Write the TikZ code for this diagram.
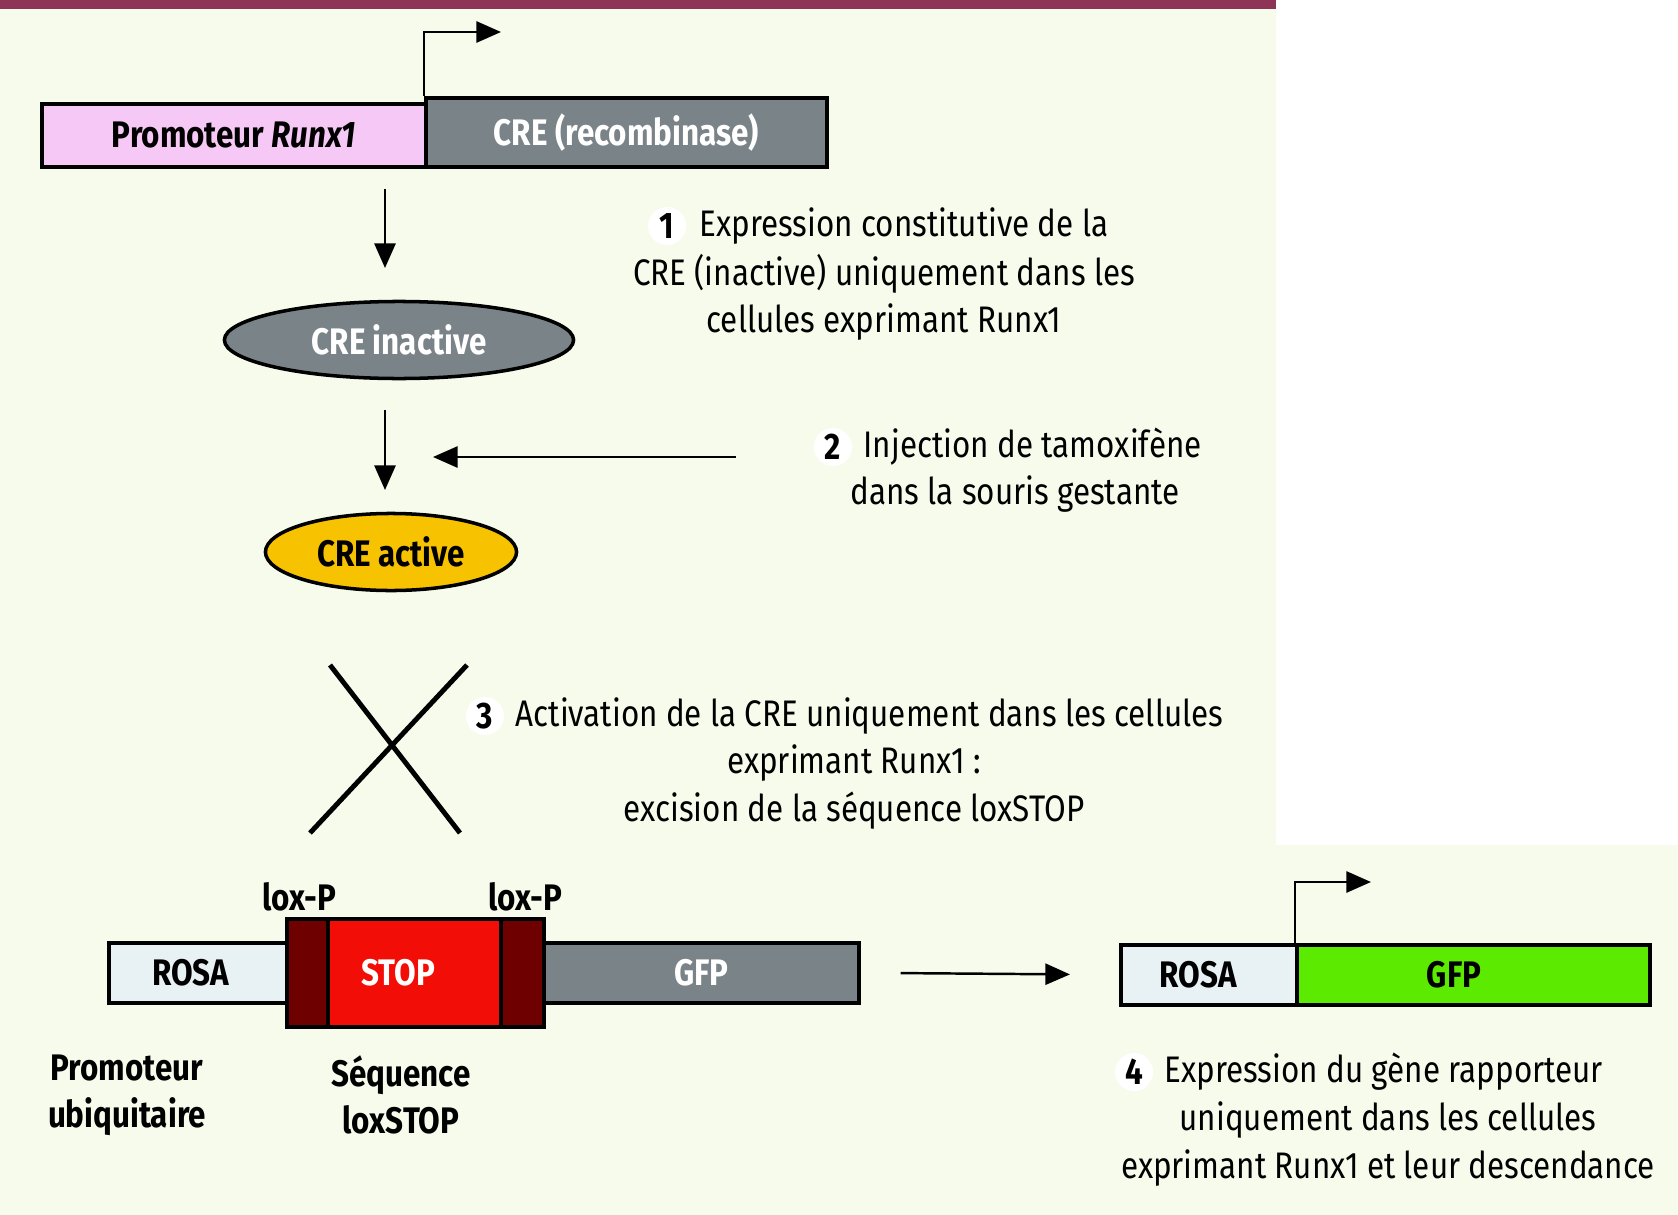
\documentclass[tikz,border=0pt]{standalone}
\usepackage{fontspec}
\setmainfont{Fira Sans}[FakeStretch=0.85]
\usetikzlibrary{positioning, shapes.geometric, arrows.meta}
\usetikzlibrary{backgrounds}

\definecolor{fond}{RGB}{247,251,236}
\definecolor{bordeaux}{RGB}{142,52,86}
\definecolor{rose}{RGB}{245,200,245}
\definecolor{gris}{RGB}{122,132,136}
\definecolor{bleupale}{RGB}{232,242,245}
\definecolor{loxp}{RGB}{110,0,0}
\definecolor{rouge}{RGB}{242,14,6}
\definecolor{vert}{RGB}{92,235,0}
\definecolor{jaune}{RGB}{247,195,0}

\begin{document}
\begin{tikzpicture}[x=0.01cm, y=-0.01cm,
        every node/.style={font=\fontsize{10.5}{13.4}\selectfont},
        gene/.style={draw, line width=1pt, inner sep=0pt, anchor=north west,
            font=\fontsize{10.5}{13.4}\selectfont\bfseries},
        prot/.style={draw, ellipse, line width=1pt, inner sep=0pt,
            minimum height=0.77cm, font=\fontsize{10.5}{13.4}\selectfont\bfseries},
        badge/.style={circle, fill=white, inner sep=0pt, minimum size=0.38cm,
            font=\fontsize{10.5}{13.4}\selectfont\bfseries},
        txt/.style={inner sep=0pt, align=center},
        gras/.style={inner sep=0pt, align=center, font=\fontsize{10.5}{13.4}\selectfont\bfseries},
        fleche/.style={line width=0.7pt, -{Triangle[length=7pt, width=6pt]}},
        croix/.style={line width=1.4pt}]
    \useasboundingbox (0,0) rectangle (1678,1215);

    % construction Runx1-CRE
    \node[gene, fill=rose, minimum width=3.84cm, minimum height=0.63cm] (promo) at (40,102) {Promoteur \textit{Runx1}};
    \node[gene, fill=gris, text=white, minimum width=4.01cm, minimum height=0.69cm] (cre) at (424,96) {CRE (recombinase)};

    % proteines
    \node[prot, fill=gris, text=white, minimum width=3.49cm] (inactive) at (399,340) {CRE inactive};
    \node[prot, fill=jaune, minimum width=2.51cm] (active) at (391,552) {CRE active};

    % construction ROSA-loxSTOP-GFP
    \node[gene, fill=bleupale, minimum width=1.78cm, minimum height=0.60cm] (rosa1) at (107,941) {ROSA\hspace*{4pt}};
    \node[gene, fill=loxp, minimum width=0.41cm, minimum height=1.08cm] (lox1) at (285,917) {};
    \node[gene, fill=rouge, text=white, minimum width=1.73cm, minimum height=1.08cm] (stop) at (326,917) {STOP\hspace*{9pt}};
    \node[gene, fill=loxp, minimum width=0.43cm, minimum height=1.08cm] (lox2) at (499,917) {};
    \node[gene, fill=gris, text=white, minimum width=3.15cm, minimum height=0.60cm] (gfp1) at (542,941) {GFP};
    \node[gras] (loxa) at (299,897) {lox-P};
    \node[gras] (loxb) at (525,897) {lox-P};
    \node[gras] (ubiq) at (127,1095) {Promoteur\\ubiquitaire};
    \node[gras] (seq) at (401,1095) {Séquence\\loxSTOP};

    % apres excision
    \node[gene, fill=bleupale, minimum width=1.76cm, minimum height=0.60cm] (rosa2) at (1119,943) {ROSA\hspace*{6pt}};
    \node[gene, fill=vert, minimum width=3.53cm, minimum height=0.60cm] (gfp2) at (1295,943) {GFP\hspace*{11pt}};

    % etapes
    \node[badge] (n1) at (667,226) {1};
    \node[txt, anchor=west] (t1) at (699,226) {Expression constitutive de la};
    \node[txt] (t1b) at (884,297) {CRE (inactive) uniquement dans les\\cellules exprimant Runx1};
    \node[badge] (n2) at (833,447) {2};
    \node[txt, anchor=west] (t2) at (863,447) {Injection de tamoxifène};
    \node[txt] (t2b) at (1015,494) {dans la souris gestante};
    \node[badge] (n3) at (485,716) {3};
    \node[txt, anchor=west] (t3) at (515,716) {Activation de la CRE uniquement dans les cellules};
    \node[txt] (t3b) at (854,787) {exprimant Runx1 :\\excision de la séquence loxSTOP};
    \node[badge] (n4) at (1134,1072) {4};
    \node[txt, anchor=west] (t4) at (1164,1072) {Expression du gène rapporteur};
    \node[txt] (t4b) at (1388,1144) {uniquement dans les cellules\\exprimant Runx1 et leur descendance};

    % fleches
    \coordinate (tss1) at (501,32);
    \coordinate (tss2) at (1371,882);
    \coordinate (d1) at (385,189);
    \coordinate (f1) at (385,268);
    \coordinate (d2) at (385,410);
    \coordinate (f2) at (385,490);
    \coordinate (tamox) at (736,457);
    \coordinate (tamoxf) at (433,457);
    \draw[fleche] (cre.north west) |- (tss1);
    \draw[fleche] (gfp2.north west) |- (tss2);
    \draw[fleche] (d1) -- (f1);
    \draw[fleche] (d2) -- (f2);
    \draw[fleche] (tamox) -- (tamoxf);
    \draw[fleche, shorten <=0.4cm, shorten >=0.49cm] (gfp1.east) -- (rosa2.west);

    % recombinaison
    \draw[croix] (330,665) -- (460,833);
    \draw[croix] (467,665) -- (310,833);

    \begin{scope}[on background layer]
        \fill[fond] (0,0) -- (1276,0) -- (1276,845) -- (1678,845) -- (1678,1215) -- (0,1215) -- cycle;
        \fill[bordeaux] (0,0) rectangle (1276,9);
    \end{scope}
\end{tikzpicture}
\end{document}
